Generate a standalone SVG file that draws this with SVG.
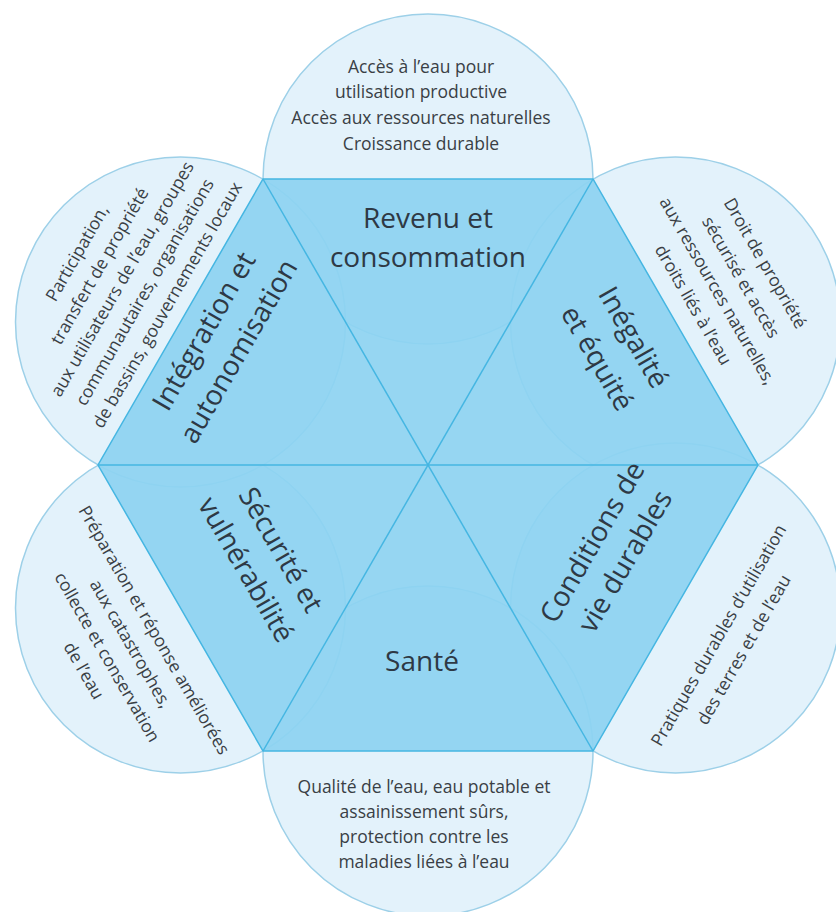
<svg xmlns="http://www.w3.org/2000/svg" width="836" height="912" viewBox="0 0 836 912">
  <style>
    .petal { fill: #e3f2fb; stroke: #9dd0e8; stroke-width: 1.5; }
    .hex { fill: #8dd3f1; fill-opacity: 0.92; }
    .divider { stroke: #45b6e2; stroke-width: 1.5; fill: none; }
    .small { font-family: "Open Sans", "Liberation Sans", sans-serif; font-size: 17.5px; font-weight: 500; fill: #3a3f45; text-anchor: middle; }
    .big { font-family: "Open Sans", "Liberation Sans", sans-serif; font-size: 28px; fill: #2e3945; text-anchor: middle; }
  </style>

  <rect width="836" height="912" fill="#ffffff"/>

  <!-- outer circles, centred on the hexagon edge midpoints -->
  <g id="circle-top"><circle class="petal" cx="428" cy="179" r="165"/></g>
  <g id="circle-upper-right"><circle class="petal" cx="675.5" cy="322" r="165"/></g>
  <g id="circle-lower-right"><circle class="petal" cx="675.5" cy="608" r="165"/></g>
  <g id="circle-bottom"><circle class="petal" cx="428" cy="751" r="165"/></g>
  <g id="circle-lower-left"><circle class="petal" cx="180.5" cy="608" r="165"/></g>
  <g id="circle-upper-left"><circle class="petal" cx="180.5" cy="322" r="165"/></g>

  <!-- central hexagon -->
  <g id="hexagon">
    <polygon class="hex" points="263,179 593,179 758,465 593,751 263,751 98,465"/>
  </g>

  <!-- triangle dividers -->
  <g id="connectors">
    <polygon class="divider" points="263,179 593,179 758,465 593,751 263,751 98,465"/>
    <line class="divider" x1="263" y1="179" x2="593" y2="751"/>
    <line class="divider" x1="593" y1="179" x2="263" y2="751"/>
    <line class="divider" x1="98" y1="465" x2="758" y2="465"/>
  </g>

  <!-- triangle labels -->
  <g id="revenu">
    <text class="big" x="428" y="228">Revenu et</text>
    <text class="big" x="428" y="267">consommation</text>
  </g>
  <g id="inegalite" transform="translate(593,370) rotate(60)">
    <text class="big" x="-8" y="-42">Inégalité</text>
    <text class="big" x="-8" y="0">et équité</text>
  </g>
  <g id="conditions" transform="translate(593,560) rotate(-60)">
    <text class="big" x="15" y="0">Conditions de</text>
    <text class="big" x="15" y="38">vie durables</text>
  </g>
  <g id="sante">
    <text class="big" x="422" y="671">Santé</text>
  </g>
  <g id="securite" transform="translate(263,560) rotate(60)">
    <text class="big" x="0" y="-11">Sécurité et</text>
    <text class="big" x="0" y="29">vulnérabilité</text>
  </g>
  <g id="integration" transform="translate(263,370) rotate(-60)">
    <text class="big" x="4" y="-61">Intégration et</text>
    <text class="big" x="4" y="-21">autonomisation</text>
  </g>

  <!-- circle texts -->
  <g id="text-top">
    <text class="small" x="421" y="73">Accès à l’eau pour</text>
    <text class="small" x="421" y="98">utilisation productive</text>
    <text class="small" x="421" y="124">Accès aux ressources naturelles</text>
    <text class="small" x="421" y="150">Croissance durable</text>
  </g>
  <g id="text-upper-right" transform="translate(675.5,322) rotate(60)">
    <text class="small" x="-6" y="-101">Droit de propriété</text>
    <text class="small" x="-6" y="-73">sécurisé et accès</text>
    <text class="small" x="-6" y="-46">aux ressources naturelles,</text>
    <text class="small" x="-6" y="-18">droits liés à l’eau</text>
  </g>
  <g id="text-lower-right" transform="translate(675.5,608) rotate(-60)">
    <text class="small" x="-2" y="57">Pratiques durables d’utilisation</text>
    <text class="small" x="-2" y="86">des terres et de l’eau</text>
  </g>
  <g id="text-bottom">
    <text class="small" x="424" y="793">Qualité de l’eau, eau potable et</text>
    <text class="small" x="424" y="818">assainissement sûrs,</text>
    <text class="small" x="424" y="843">protection contre les</text>
    <text class="small" x="424" y="868">maladies liées à l’eau</text>
  </g>
  <g id="text-lower-left" transform="translate(180.5,608) rotate(60)">
    <text class="small" x="6" y="40">Préparation et réponse améliorées</text>
    <text class="small" x="6" y="67">aux catastrophes,</text>
    <text class="small" x="6" y="94">collecte et conservation</text>
    <text class="small" x="6" y="121">de l’eau</text>
  </g>
  <g id="text-upper-left" transform="translate(180.5,322) rotate(-60)">
    <text class="small" x="8" y="-118">Participation,</text>
    <text class="small" x="8" y="-92">transfert de propriété</text>
    <text class="small" x="8" y="-66">aux utilisateurs de l’eau, groupes</text>
    <text class="small" x="8" y="-40">communautaires, organisations</text>
    <text class="small" x="8" y="-14">de bassins, gouvernements locaux</text>
  </g>
</svg>
